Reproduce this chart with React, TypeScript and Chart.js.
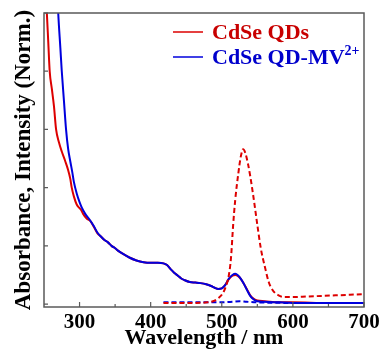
import React, { useEffect, useRef } from "react";
import { Chart, registerables } from "chart.js";

Chart.register(...registerables);

// ---- data ----
const xTickValues = [300, 400, 500, 600, 700];
const xMinorTicks = [350, 450, 550, 650];
const yTickValues = [0, 1, 2, 3, 4, 5];

const legendNames = ["CdSe QDs", "CdSe QD-MV"];
const legendSups = ["", "2+"];

// Absorbance, CdSe QDs (red solid)
const absQdX = [252, 254, 256, 258, 261, 264, 267, 271, 275, 280, 284, 287, 289, 292, 296, 299, 302, 305, 310, 315, 320, 325, 330, 335, 340, 345, 350, 355, 360, 370, 380, 390, 400, 410, 418, 423, 428, 433, 438, 443, 448, 455, 463, 470, 478, 485, 490, 495, 500, 505, 510, 515, 519, 523, 527, 531, 536, 540, 545, 550, 560, 580, 600, 650, 700];
const absQdY = [5.4, 5.0, 4.5, 4.0, 3.7, 3.4, 3.0, 2.78, 2.62, 2.45, 2.3, 2.15, 2.0, 1.85, 1.71, 1.66, 1.62, 1.55, 1.47, 1.43, 1.33, 1.22, 1.16, 1.1, 1.06, 1.0, 0.96, 0.91, 0.87, 0.8, 0.75, 0.72, 0.71, 0.71, 0.7, 0.67, 0.6, 0.54, 0.49, 0.44, 0.41, 0.38, 0.37, 0.36, 0.34, 0.31, 0.28, 0.26, 0.27, 0.33, 0.43, 0.49, 0.5, 0.48, 0.43, 0.35, 0.24, 0.15, 0.09, 0.06, 0.05, 0.03, 0.03, 0.02, 0.02];

// Absorbance, CdSe QD-MV2+ (blue solid)
const absMvX = [269, 270, 273, 275, 278, 281, 284, 287, 290, 292, 296, 300, 303, 308, 313, 320, 325, 330, 335, 340, 345, 350, 355, 360, 370, 380, 390, 400, 410, 418, 423, 428, 433, 438, 443, 448, 455, 463, 470, 478, 485, 490, 495, 500, 505, 510, 515, 519, 523, 527, 531, 536, 540, 545, 550, 560, 580, 600, 650, 700];
const absMvY = [5.3, 5.0, 4.4, 4.0, 3.5, 3.0, 2.66, 2.45, 2.25, 2.1, 1.9, 1.75, 1.66, 1.55, 1.47, 1.34, 1.23, 1.16, 1.1, 1.06, 1.0, 0.96, 0.91, 0.87, 0.8, 0.75, 0.72, 0.71, 0.71, 0.7, 0.67, 0.6, 0.54, 0.49, 0.44, 0.41, 0.38, 0.37, 0.36, 0.34, 0.31, 0.28, 0.26, 0.27, 0.33, 0.44, 0.5, 0.52, 0.49, 0.43, 0.35, 0.23, 0.14, 0.08, 0.05, 0.04, 0.03, 0.02, 0.02, 0.02];

// Emission, CdSe QDs (red dashed)
const plQdX = [418, 440, 460, 480, 490, 495, 500, 505, 510, 513, 516, 519, 523, 527, 530, 533, 537, 540, 545, 550, 555, 561, 566, 570, 575, 580, 587, 600, 620, 640, 660, 680, 700];
const plQdY = [0.02, 0.02, 0.02, 0.03, 0.06, 0.1, 0.16, 0.28, 0.5, 0.8, 1.36, 1.8, 2.22, 2.55, 2.66, 2.6, 2.4, 2.2, 1.8, 1.36, 0.95, 0.62, 0.38, 0.27, 0.19, 0.15, 0.12, 0.12, 0.13, 0.14, 0.15, 0.16, 0.17];

// Emission, CdSe QD-MV2+ (blue dashed)
const plMvX = [418, 450, 500, 515, 525, 535, 550, 600, 700];
const plMvY = [0.03, 0.03, 0.03, 0.04, 0.05, 0.04, 0.03, 0.02, 0.02];

const RED = "#dd0000";
const BLUE = "#0000dd";
const LEGEND_COLORS = ["#c80000", "#0000cc"];
const FRAME = "#5a5a5a";
const SERIF = "'Liberation Serif', 'Times New Roman', serif";

const toPts = (xs: number[], ys: number[]) => xs.map((x, i) => ({ x, y: ys[i] }));

const framePlugin = {
  id: "frameTicks",
  afterDatasetsDraw(chart: any) {
    const { ctx, chartArea: a, scales } = chart;
    const xs = scales.x;
    const ys = scales.y;
    ctx.save();
    ctx.strokeStyle = FRAME;
    ctx.lineWidth = 1.5;
    ctx.strokeRect(a.left, a.top, a.right - a.left, a.bottom - a.top);
    ctx.lineWidth = 1.2;
    ctx.beginPath();
    xTickValues.forEach((v) => {
      const p = xs.getPixelForValue(v);
      ctx.moveTo(p, a.bottom);
      ctx.lineTo(p, a.bottom - 5);
    });
    xMinorTicks.forEach((v) => {
      const p = xs.getPixelForValue(v);
      ctx.moveTo(p, a.bottom);
      ctx.lineTo(p, a.bottom - 3);
    });
    yTickValues.forEach((v) => {
      const p = ys.getPixelForValue(v);
      ctx.moveTo(a.left, p);
      ctx.lineTo(a.left + 4, p);
    });
    ctx.stroke();
    ctx.restore();
  },
};

const legendPlugin = {
  id: "customLegend",
  afterDraw(chart: any) {
    const { ctx } = chart;
    ctx.save();
    const lineX0 = 173;
    const lineX1 = 203;
    const textX = 212;
    const rows = [32, 57];
    legendNames.forEach((name, i) => {
      const y = rows[i];
      ctx.strokeStyle = i === 0 ? RED : BLUE;
      ctx.lineWidth = 1.5;
      ctx.beginPath();
      ctx.moveTo(lineX0, y);
      ctx.lineTo(lineX1, y);
      ctx.stroke();
      ctx.fillStyle = LEGEND_COLORS[i];
      ctx.font = `bold 22px ${SERIF}`;
      ctx.textBaseline = "middle";
      ctx.textAlign = "left";
      ctx.fillText(name, textX, y + 1);
      const w = ctx.measureText(name).width;
      if (legendSups[i]) {
        ctx.font = `bold 14px ${SERIF}`;
        ctx.fillText(legendSups[i], textX + w, y - 6);
      }
    });
    ctx.restore();
  },
};

const lineBase = { pointRadius: 0, cubicInterpolationMode: "monotone" as const, fill: false };

export default function App() {
  const ref = useRef<HTMLCanvasElement | null>(null);
  useEffect(() => {
    if (!ref.current) return;
    const chart = new Chart(ref.current, {
      type: "line",
      data: {
        datasets: [
          { label: "PL QDs", data: toPts(plQdX, plQdY), borderColor: RED, borderWidth: 2, borderDash: [5, 3], ...lineBase },
          { label: "PL QD-MV", data: toPts(plMvX, plMvY), borderColor: BLUE, borderWidth: 2, borderDash: [5, 3], ...lineBase },
          { label: legendNames[1], data: toPts(absMvX, absMvY), borderColor: BLUE, borderWidth: 2, ...lineBase },
          { label: legendNames[0], data: toPts(absQdX, absQdY), borderColor: RED, borderWidth: 2, ...lineBase },
        ],
      },
      options: {
        responsive: false,
        animation: false,
        devicePixelRatio: 1,
        layout: { padding: { top: 13, right: 23, left: 0, bottom: 0 } },
        plugins: { legend: { display: false }, tooltip: { enabled: false } },
        scales: {
          x: {
            type: "linear",
            min: 250,
            max: 700,
            afterBuildTicks: (s: any) => {
              s.ticks = xTickValues.map((v) => ({ value: v }));
            },
            afterFit: (s: any) => {
              s.height = 42;
            },
            grid: { display: false, drawTicks: false },
            border: { display: false },
            ticks: { color: "#000", padding: 3, maxRotation: 0, autoSkip: false, font: { family: SERIF, size: 21, weight: "bold" } },
            title: { display: true, text: "Wavelength / nm", color: "#000", padding: { top: 0, bottom: 0 }, font: { family: SERIF, size: 22, weight: "bold", lineHeight: 1 } },
          },
          y: {
            type: "linear",
            min: -0.05,
            max: 5,
            afterFit: (s: any) => {
              s.width = 44;
            },
            grid: { display: false, drawTicks: false },
            border: { display: false },
            ticks: { display: false },
            title: { display: true, text: "Absorbance, Intensity (Norm.)", color: "#000", padding: { top: 13, bottom: 0 }, font: { family: SERIF, size: 23, weight: "bold", lineHeight: 1 } },
          },
        },
      },
      plugins: [framePlugin, legendPlugin],
    });
    return () => chart.destroy();
  }, []);
  return (
    <div style={{ position: "absolute", left: 0, top: 0, width: 387, height: 349, background: "#fff" }}>
      <canvas ref={ref} width={387} height={349} />
    </div>
  );
}
